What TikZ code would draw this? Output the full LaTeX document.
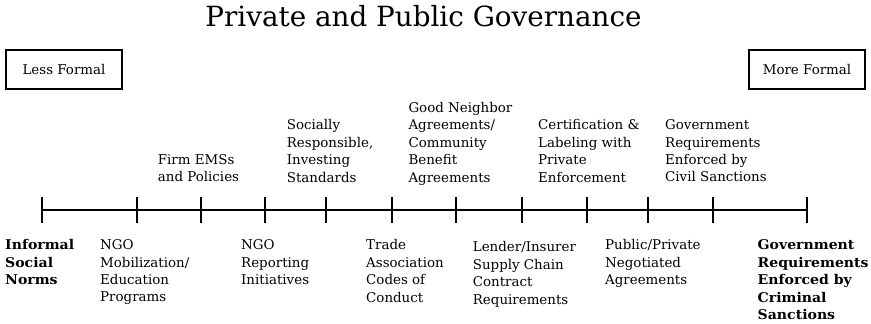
\documentclass[tikz,border=0pt]{standalone}
\usepackage{fontspec}
\setmainfont{DejaVu Serif}
\newfontfamily\widebold[FakeStretch=1.05]{DejaVu Serif Bold}
\begin{document}
\begin{tikzpicture}[x=1pt,y=-1pt,
  txt/.style={font=\fontsize{13.4}{17.4}\selectfont},
  lbl/.style={txt, align=left, inner sep=0pt, anchor=north west},
  boldlbl/.style={lbl, font=\fontsize{13.4}{17.5}\widebold},
  formalbox/.style={draw, line width=2pt, minimum width=116pt, minimum height=39pt, inner sep=0pt, txt},
  axisline/.style={line width=2pt},
  tickmark/.style={line width=2pt}]
\useasboundingbox (0,0) rectangle (871,324);

% title
\node[font=\fontsize{27.8}{32}\selectfont, anchor=base] (title) at (423.5,26) {Private and Public Governance};

% end markers
\node[formalbox] (less) at (64,69.3) {Less Formal};
\node[formalbox] (more) at (807,69.3) {More Formal};

% the scale
\foreach \i/\x in {1/42,2/136.5,3/200.5,4/264.5,5/326,6/392,7/456,8/522,9/586.5,10/648,11/713,12/807}{
  \coordinate (t\i) at (\x,210);
  \draw[tickmark] (\x,197) -- (\x,223);
}
\draw[axisline] (t1) -- (t12);

% labels above the scale
\node[lbl] (emss) at (157.7,154.4) {Firm EMSs\\and Policies};
\node[lbl] (sri) at (286.7,119.6) {Socially\\Responsible,\\Investing\\Standards};
\node[lbl] (gna) at (408.3,102.2) {Good Neighbor\\Agreements/\\Community\\Benefit\\Agreements};
\node[lbl] (cert) at (538,119.6) {Certification \&\\Labeling with\\Private\\Enforcement};
\node[lbl] (civil) at (665,119.6) {Government\\Requirements\\Enforced by\\Civil Sanctions};

% labels below the scale
\node[boldlbl] (norms) at (5,239.5) {Informal\\Social\\Norms};
\node[lbl] (ngo) at (100,239.5) {NGO\\Mobilization/\\Education\\Programs};
\node[lbl] (report) at (241,239.5) {NGO\\Reporting\\Initiatives};
\node[lbl] (trade) at (366,239.5) {Trade\\Association\\Codes of\\Conduct};
\node[lbl] (lender) at (472.7,241.5) {Lender/Insurer\\Supply Chain\\Contract\\Requirements};
\node[lbl] (ppna) at (605,239.5) {Public/Private\\Negotiated\\Agreements};
\node[boldlbl] (criminal) at (757.5,239.5) {Government\\Requirements\\Enforced by\\Criminal\\Sanctions};
\end{tikzpicture}
\end{document}
